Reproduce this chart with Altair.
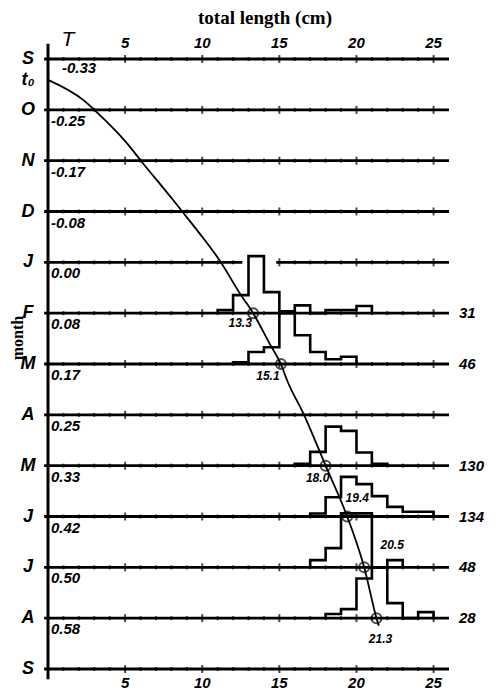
import altair as alt
import pandas as pd

# ---------------- data ----------------
month_labels = ["S", "O", "N", "D", "J", "F", "M", "A", "M", "J", "J", "A", "S"]
age_labels = ["-0.33", "-0.25", "-0.17", "-0.08", "0.00", "0.08",
              "0.17", "0.25", "0.33", "0.42", "0.50", "0.58"]
t0_month = 0.41                      # t0 sits between S and O
length_ticks = [5, 10, 15, 20, 25]

sample_month = [5, 6, 8, 9, 10, 11]  # F, M, M, J, J, A
sample_n = [31, 46, 130, 134, 48, 28]
mean_length = [13.3, 15.1, 18.0, 19.4, 20.5, 21.3]

# length-frequency histograms, 1-cm classes (percent of sample)
hist_first_bin = [11, 12, 16, 17, 17, 18]
hist_pct = [
    [2.5, 15, 47.5, 17.5, 0, 6.5, 0, 2.5, 2.5, 6],
    [1.5, 10, 14, 44, 24, 10, 4, 6],
    [1.5, 11.5, 32.5, 29, 11, 1.5],
    [2.5, 16, 33, 27, 17, 8, 4, 4],
    [6, 16, 45, 45, 0, 6],
    [3.5, 7.5, 33, 42, 12.5, 0, 5],
]

# growth curve (length cm vs month index)
curve_length = [0, 2.3, 3.0, 5.1, 6.1, 8.1, 8.7, 9.8, 11.1, 12.5, 13.3,
                14.35, 15.1, 15.5, 16.6, 18.0, 19.4, 20.5, 21.3, 21.45]
curve_month = [0.41, 0.81, 1.0, 1.65, 2.03, 2.77, 3.0, 3.42, 3.95, 4.64, 5,
               5.59, 6, 6.32, 7, 8, 9, 10, 11, 11.15]

# ---------------- layout / style ----------------
X_MAX = 26
W, H = 401, 610
PCT_TO_MONTH = 1.2 / 50.83
LINE_START, LINE_END = -0.25, 26.0
JAN_GAP = (12.6, 14.8)
HAND = "Liberation Sans"
SERIF = "Liberation Serif"

xs = alt.Scale(domain=[0, X_MAX], nice=False, zero=False)
ys = alt.Scale(domain=[0, 12], reverse=True, nice=False, zero=False)


def X(f):
    return alt.X(f, type="quantitative", scale=xs, axis=None)


def Y(f):
    return alt.Y(f, type="quantitative", scale=ys, axis=None)


# axis line
axis_df = pd.DataFrame({"x": [0], "y": [-0.3], "y2": [12.2]})
axis_line = alt.Chart(axis_df).mark_rule(strokeWidth=3, color="black").encode(
    x=X("x"), y=Y("y"), y2="y2")

# month lines
seg_rows = []
for m in range(len(month_labels)):
    if m == 4:
        seg_rows.append({"m": m, "x0": LINE_START, "x1": JAN_GAP[0]})
        seg_rows.append({"m": m, "x0": JAN_GAP[1], "x1": LINE_END})
    else:
        seg_rows.append({"m": m, "x0": LINE_START, "x1": LINE_END})
seg_df = pd.DataFrame(seg_rows)
month_lines = alt.Chart(seg_df).mark_rule(strokeWidth=2.8, color="black").encode(
    x=X("x0"), x2="x1", y=Y("m"))

# tick dots on lines
tick_rows = []
for m in range(len(month_labels)):
    for v in range(1, 26):
        if m == 4 and JAN_GAP[0] < v < JAN_GAP[1]:
            continue
        tick_rows.append({"m": m, "x": v, "major": v % 5 == 0})
tick_df = pd.DataFrame(tick_rows)
major_ticks = alt.Chart(tick_df[tick_df.major]).mark_tick(
    orient="vertical", size=8, thickness=2, color="black").encode(x=X("x"), y=Y("m"))
minor_ticks = alt.Chart(tick_df[~tick_df.major]).mark_tick(
    orient="vertical", size=4, thickness=2, color="black").encode(x=X("x"), y=Y("m"))

# histograms as step outlines
h_rows = []
for i, m in enumerate(sample_month):
    start = hist_first_bin[i]
    pcts = hist_pct[i]
    k = 0
    h_rows.append({"g": i, "o": k, "x": start, "y": m}); k += 1
    for j, p in enumerate(pcts):
        yv = m - p * PCT_TO_MONTH
        h_rows.append({"g": i, "o": k, "x": start + j, "y": yv}); k += 1
        h_rows.append({"g": i, "o": k, "x": start + j + 1, "y": yv}); k += 1
    h_rows.append({"g": i, "o": k, "x": start + len(pcts), "y": m})
h_df = pd.DataFrame(h_rows)
hists = alt.Chart(h_df).mark_line(strokeWidth=2.6, color="black", strokeJoin="miter").encode(
    x=X("x"), y=Y("y"), detail="g:N", order="o:Q")

# growth curve
c_df = pd.DataFrame({"x": curve_length, "y": curve_month, "o": range(len(curve_length))})
curve = alt.Chart(c_df).mark_line(strokeWidth=1.8, color="black", interpolate="monotone").encode(
    x=X("x"), y=Y("y"), order="o:Q")

# mean-length circles
p_df = pd.DataFrame({"x": mean_length, "m": sample_month,
                     "lab": [f"{v:.1f}" for v in mean_length]})
circles = alt.Chart(p_df).mark_point(shape="circle", size=100, filled=False,
                                     strokeWidth=2, color="black").encode(x=X("x"), y=Y("m"))

label_dx = [-13, -13, -8, 10, 28, 4]
label_dy = [10, 12, 12, -19, -22, 21]
circle_labels = []
for i in range(len(mean_length)):
    circle_labels.append(
        alt.Chart(p_df.iloc[[i]]).mark_text(
            font=HAND, fontStyle="italic", fontWeight="bold", fontSize=12,
            dx=label_dx[i], dy=label_dy[i], color="black").encode(
            x=X("x"), y=Y("m"), text="lab:N"))

# n labels at right
n_df = pd.DataFrame({"m": sample_month, "n": [str(v) for v in sample_n]})
n_labels = alt.Chart(n_df).mark_text(
    font=HAND, fontStyle="italic", fontWeight="bold", fontSize=15, align="left",
    baseline="middle", color="black").encode(x=alt.value(411), y=Y("m"), text="n:N")

# month letters
ml_df = pd.DataFrame({"m": list(range(len(month_labels))) + [t0_month],
                      "t": month_labels + ["t\u2080"]})
month_text = alt.Chart(ml_df).mark_text(
    font=HAND, fontStyle="italic", fontWeight="bold", fontSize=18,
    baseline="middle", align="center", color="black").encode(
    x=alt.value(-20), y=Y("m"), text="t:N")

# age labels
age_df = pd.DataFrame({"m": list(range(len(age_labels))), "t": age_labels})
age_first = alt.Chart(age_df.iloc[[0]]).mark_text(
    font=HAND, fontStyle="italic", fontWeight="bold", fontSize=15, align="left",
    baseline="middle", dy=9, color="black").encode(x=alt.value(14), y=Y("m"), text="t:N")
age_rest = alt.Chart(age_df.iloc[1:]).mark_text(
    font=HAND, fontStyle="italic", fontWeight="bold", fontSize=15, align="left",
    baseline="middle", dy=11, color="black").encode(x=alt.value(3), y=Y("m"), text="t:N")

# tick labels top and bottom
tl_df = pd.DataFrame({"v": length_ticks, "t": [str(v) for v in length_ticks]})
top_labels = alt.Chart(tl_df).mark_text(
    font=HAND, fontStyle="italic", fontWeight="bold", fontSize=15,
    baseline="middle", color="black").encode(x=X("v"), y=alt.value(-16), text="t:N")
bottom_labels = alt.Chart(tl_df).mark_text(
    font=HAND, fontStyle="italic", fontWeight="bold", fontSize=15,
    baseline="middle", color="black").encode(x=X("v"), y=alt.value(624), text="t:N")
T_label = alt.Chart(pd.DataFrame({"t": ["T"]})).mark_text(
    font=HAND, fontStyle="italic", fontWeight="normal", fontSize=21,
    baseline="middle", color="black").encode(x=alt.value(20), y=alt.value(-19), text="t:N")

# titles
x_title = alt.Chart(pd.DataFrame({"t": ["total length (cm)"]})).mark_text(
    font=SERIF, fontWeight="bold", fontSize=19, baseline="middle", color="black").encode(
    x=alt.value(217), y=alt.value(-41), text="t:N")
y_title = alt.Chart(pd.DataFrame({"t": ["month"]})).mark_text(
    font=SERIF, fontWeight="bold", fontSize=16, baseline="middle", angle=270,
    color="black").encode(x=alt.value(-30), y=alt.value(279), text="t:N")

chart = alt.layer(
    month_lines, minor_ticks, major_ticks, axis_line, hists, curve, circles,
    *circle_labels, n_labels, month_text, age_first, age_rest,
    top_labels, bottom_labels, T_label, x_title, y_title,
).properties(
    width=W, height=H,
    autosize=alt.AutoSizeParams(type="none"),
    padding={"left": 40, "top": 51, "right": 43, "bottom": 22},
).configure_view(stroke=None)

chart.save("out.html", embed_options={"renderer": "svg", "actions": False})
